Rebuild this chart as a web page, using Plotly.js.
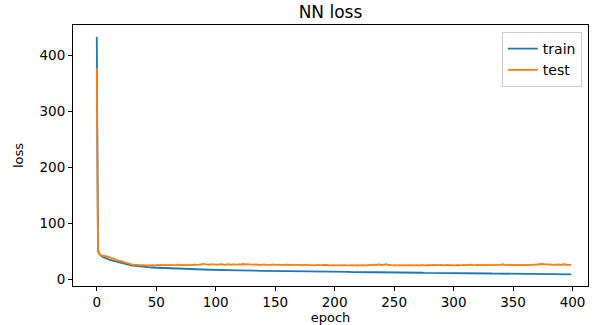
<!DOCTYPE html>
<html><head><meta charset="utf-8">
<script src="https://cdn.plot.ly/plotly-3.0.1.min.js"></script>
<style>html,body{margin:0;padding:0;background:#fff}#chart{width:601px;height:325px}</style>
</head><body><div id="chart"></div>
<script>
const chartTitle = "NN loss";
const xLabel = "epoch";
const yLabel = "loss";
const seriesNames = ["train", "test"];
const xTicks = [0, 50, 100, 150, 200, 250, 300, 350, 400];
const yTicks = [0, 100, 200, 300, 400];

const trainLoss = [
432,52,45.5,42.3,40.6,39.2,38.1,37.3,36.4,35.7,35.0,34.3,33.7,33.1,32.5,31.9,31.2,30.6,30.0,29.3,
28.6,28.0,27.5,27.0,26.5,26.0,25.6,25.1,24.7,24.3,24.0,23.7,23.4,23.1,22.8,22.5,22.3,22.0,21.8,21.6,
21.4,21.2,21.1,20.9,20.8,20.6,20.5,20.4,20.2,20.1,20.0,19.9,19.8,19.7,19.6,19.5,19.4,19.3,19.2,19.1,
19.0,18.9,18.8,18.8,18.7,18.6,18.5,18.4,18.4,18.3,18.2,18.1,18.1,18.0,17.9,17.8,17.8,17.7,17.6,17.6,
17.5,17.4,17.4,17.3,17.2,17.2,17.1,17.0,17.0,16.9,16.8,16.8,16.7,16.7,16.6,16.5,16.5,16.4,16.4,16.3,
16.2,16.2,16.1,16.1,16.0,16.0,15.9,15.9,15.8,15.8,15.7,15.7,15.6,15.6,15.5,15.5,15.5,15.4,15.4,15.3,
15.3,15.2,15.2,15.2,15.1,15.1,15.0,15.0,15.0,14.9,14.9,14.9,14.8,14.8,14.8,14.7,14.7,14.7,14.6,14.6,
14.6,14.5,14.5,14.5,14.4,14.4,14.4,14.3,14.3,14.3,14.2,14.2,14.2,14.1,14.1,14.1,14.0,14.0,14.0,13.9,
13.9,13.9,13.9,13.8,13.8,13.8,13.7,13.7,13.7,13.7,13.6,13.6,13.6,13.5,13.5,13.5,13.5,13.4,13.4,13.4,
13.4,13.3,13.3,13.3,13.3,13.2,13.2,13.2,13.2,13.1,13.1,13.1,13.1,13.0,13.0,13.0,13.0,12.9,12.9,12.9,
12.9,12.8,12.8,12.8,12.8,12.7,12.7,12.7,12.7,12.6,12.6,12.6,12.6,12.6,12.5,12.5,12.5,12.5,12.4,12.4,
12.4,12.4,12.4,12.3,12.3,12.3,12.3,12.2,12.2,12.2,12.2,12.2,12.1,12.1,12.1,12.1,12.0,12.0,12.0,12.0,
12.0,11.9,11.9,11.9,11.9,11.8,11.8,11.8,11.8,11.8,11.7,11.7,11.7,11.7,11.6,11.6,11.6,11.6,11.5,11.5,
11.5,11.5,11.5,11.4,11.4,11.4,11.4,11.3,11.3,11.3,11.3,11.2,11.2,11.2,11.2,11.1,11.1,11.1,11.1,11.0,
11.0,11.0,11.0,10.9,10.9,10.9,10.9,10.8,10.8,10.8,10.8,10.7,10.7,10.7,10.7,10.6,10.6,10.6,10.6,10.5,
10.5,10.5,10.5,10.4,10.4,10.4,10.4,10.3,10.3,10.3,10.3,10.3,10.2,10.2,10.2,10.2,10.1,10.1,10.1,10.1,
10.0,10.0,10.0,10.0,9.9,9.9,9.9,9.9,9.9,9.8,9.8,9.8,9.8,9.7,9.7,9.7,9.7,9.7,9.6,9.6,
9.6,9.6,9.5,9.5,9.5,9.5,9.5,9.4,9.4,9.4,9.4,9.3,9.3,9.3,9.3,9.3,9.2,9.2,9.2,9.2,
9.2,9.1,9.1,9.1,9.1,9.0,9.0,9.0,9.0,9.0,8.9,9.3,8.9,8.9,8.9,8.8,8.8,8.8,8.8,8.8,
8.7,8.7,8.7,8.7,8.7,8.6,8.6,8.6,8.6,8.6,8.5,8.5,8.5,8.5,8.5,8.4,8.4,8.4,8.4,8.4
];

const testLoss = [
377,48,44.5,43.2,42.6,41.0,41.8,40.3,39.7,40.5,38.6,38.9,37.2,36.5,36.8,35.1,34.6,33.9,33.2,32.1,
31.4,30.8,30.1,29.6,28.8,28.4,27.6,27.2,26.5,26.1,25.8,25.4,25.6,24.9,25.2,24.7,24.9,24.5,24.8,24.3,
24.6,24.2,24.8,24.4,24.1,24.7,24.3,24.9,24.5,24.2,24.8,25.1,24.4,24.6,25.0,24.3,24.7,25.2,24.5,24.8,
24.6,25.1,24.7,25.3,24.9,24.6,25.2,24.8,25.5,24.9,25.3,25.0,24.7,25.4,25.1,24.8,25.6,25.2,24.9,25.3,
25.0,25.5,25.2,25.8,25.4,25.1,25.7,26.2,25.6,27.4,26.8,25.9,26.3,25.7,26.1,25.5,26.4,25.9,25.6,26.2,
25.8,26.4,25.7,26.0,25.5,26.3,25.9,25.6,26.1,25.4,26.6,25.8,26.2,25.5,25.9,26.5,25.7,25.3,26.0,25.6,
26.3,25.8,25.4,27.2,26.1,25.6,26.4,25.9,25.3,26.0,25.7,26.2,25.5,25.8,26.3,25.4,25.9,25.6,25.2,25.8,
25.5,26.0,25.3,25.7,26.2,25.4,25.1,25.8,25.5,25.9,25.2,25.6,25.0,25.4,25.8,25.3,24.9,25.5,25.1,25.7,
25.2,24.8,25.4,25.0,25.6,24.9,25.3,24.7,25.1,25.5,24.8,25.2,24.6,25.0,24.7,25.3,24.9,25.6,24.8,25.1,
24.7,25.2,24.9,24.5,25.0,24.6,25.3,24.8,24.4,25.1,24.7,25.4,24.9,24.5,25.0,24.6,24.3,24.9,24.5,24.8,
24.4,24.9,24.6,24.2,24.8,24.5,24.1,24.7,24.3,24.9,24.4,24.0,24.6,24.2,24.8,24.5,24.1,24.7,24.3,24.6,
24.2,24.8,24.4,24.9,24.5,24.2,24.7,24.3,25.0,24.6,24.9,25.3,24.7,25.6,25.1,24.8,25.4,26.4,25.2,25.0,
25.5,24.9,25.2,26.6,25.3,24.8,25.1,24.6,25.0,24.5,24.8,24.4,24.9,24.3,24.7,24.2,24.6,24.4,24.8,24.3,
24.7,24.2,24.6,24.1,24.5,24.8,24.3,24.7,24.2,24.9,24.4,24.6,24.1,25.0,24.5,24.9,24.3,24.8,24.4,25.1,
24.6,24.9,25.3,24.7,25.1,24.6,25.5,24.9,25.2,24.7,25.0,24.5,24.9,25.4,24.8,25.2,24.6,25.0,24.5,24.9,
24.4,24.8,25.2,24.6,25.0,24.5,24.9,25.4,24.7,25.1,24.6,25.0,25.5,24.8,25.2,25.7,25.1,24.7,25.3,24.8,
25.2,24.7,25.1,24.6,25.0,24.5,24.9,25.3,24.8,25.2,24.7,25.6,25.0,25.4,24.9,25.3,25.8,25.2,24.8,25.1,
24.7,25.0,26.3,25.1,24.8,25.3,24.9,25.5,25.0,24.6,25.1,24.7,25.2,24.8,25.4,24.9,25.3,24.7,25.1,24.8,
25.2,24.9,25.5,25.0,25.4,24.9,25.6,25.2,25.9,25.3,26.2,25.6,26.8,25.9,26.4,27.1,25.8,26.5,25.7,26.1,
25.6,26.3,25.4,25.9,25.2,25.7,25.0,26.4,25.3,25.8,24.9,25.6,25.1,26.7,25.4,25.9,24.8,25.5,25.0,25.6
];

const epochs = trainLoss.map((_, i) => i);
const font = "DejaVu Sans, sans-serif";

const traces = [
  {x: epochs, y: trainLoss, name: seriesNames[0], type: "scatter", mode: "lines",
   line: {color: "#1f77b4", width: 1.8}},
  {x: epochs, y: testLoss, name: seriesNames[1], type: "scatter", mode: "lines",
   line: {color: "#ff7f0e", width: 1.8}}
];

const axisCommon = {
  showgrid: false, zeroline: false, showline: true, mirror: true,
  linecolor: "#000", linewidth: 1, ticks: "outside", ticklen: 4, tickwidth: 1,
  tickcolor: "#000", tickfont: {family: font, size: 13.5, color: "#000"}
};

const layout = {
  width: 601, height: 325,
  margin: {l: 73, r: 13, t: 25, b: 39},
  paper_bgcolor: "#fff", plot_bgcolor: "#fff",
  font: {family: font, color: "#000"},
  title: {text: chartTitle, font: {family: font, size: 17, color: "#000"},
          xref: "paper", x: 0.5, xanchor: "center", yref: "container", y: 0.962, yanchor: "middle"},
  xaxis: Object.assign({}, axisCommon, {
    range: [-20, 413], tickvals: xTicks, ticktext: xTicks.map(String),
    title: {text: xLabel, font: {family: font, size: 13, color: "#000"}, standoff: 3}
  }),
  yaxis: Object.assign({}, axisCommon, {
    range: [-12.5, 453.6], tickvals: yTicks, ticktext: yTicks.map(String),
    title: {text: yLabel, font: {family: font, size: 13, color: "#000"}, standoff: 12}
  }),
  showlegend: true,
  legend: {x: 0.988, xanchor: "right", y: 0.973, yanchor: "top",
           bgcolor: "rgba(255,255,255,0.8)", bordercolor: "#cccccc", borderwidth: 1,
           font: {family: font, size: 14, color: "#000"}, tracegroupgap: 0}
};

Plotly.newPlot("chart", traces, layout, {displayModeBar: false, staticPlot: true});
</script>
</body></html>
